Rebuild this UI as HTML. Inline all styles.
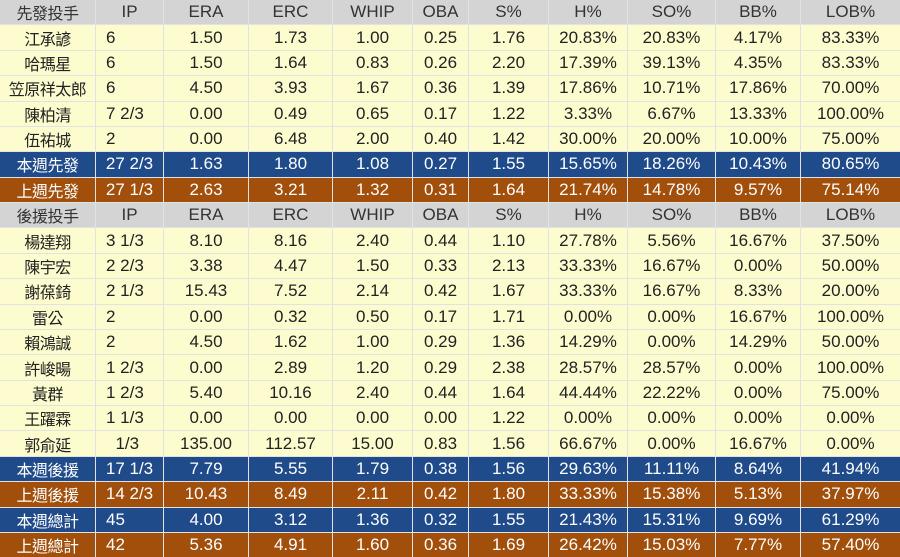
<!DOCTYPE html>
<html><head><meta charset="utf-8"><style>
html,body{margin:0;padding:0;background:#fff;overflow:hidden;}
.g{width:900px;height:557px;display:grid;grid-template-columns:95px 67px 84px 83px 79px 55px 79px 78px 87px 84px 99px;grid-template-rows:repeat(21,1fr);gap:1px;background:#e2e2e2;font-family:"Liberation Sans","Noto Sans CJK TC",sans-serif;font-size:17px;}
.g div{display:flex;align-items:center;justify-content:center;white-space:nowrap;overflow:hidden;color:#222;}
.n{font-size:16px;letter-spacing:-0.5px;}
.ip{justify-content:flex-start!important;padding-left:10px;}
.h{background:#d4d4d4;color:#333!important;}
.c{background:#fdfccf;}
.b{background:#1f4b8a;color:#fff!important;}
.o{background:#a24f0c;color:#fff!important;}
</style></head><body>
<div class="g" id="g"></div>
<script>
var rows=[
["h","先發投手","IP","ERA","ERC","WHIP","OBA","S%","H%","SO%","BB%","LOB%"],
["c","江承諺","6","1.50","1.73","1.00","0.25","1.76","20.83%","20.83%","4.17%","83.33%"],
["c","哈瑪星","6","1.50","1.64","0.83","0.26","2.20","17.39%","39.13%","4.35%","83.33%"],
["c","笠原祥太郎","6","4.50","3.93","1.67","0.36","1.39","17.86%","10.71%","17.86%","70.00%"],
["c","陳柏清","7 2/3","0.00","0.49","0.65","0.17","1.22","3.33%","6.67%","13.33%","100.00%"],
["c","伍祐城","2","0.00","6.48","2.00","0.40","1.42","30.00%","20.00%","10.00%","75.00%"],
["b","本週先發","27 2/3","1.63","1.80","1.08","0.27","1.55","15.65%","18.26%","10.43%","80.65%"],
["o","上週先發","27 1/3","2.63","3.21","1.32","0.31","1.64","21.74%","14.78%","9.57%","75.14%"],
["h","後援投手","IP","ERA","ERC","WHIP","OBA","S%","H%","SO%","BB%","LOB%"],
["c","楊達翔","3 1/3","8.10","8.16","2.40","0.44","1.10","27.78%","5.56%","16.67%","37.50%"],
["c","陳宇宏","2 2/3","3.38","4.47","1.50","0.33","2.13","33.33%","16.67%","0.00%","50.00%"],
["c","謝葆錡","2 1/3","15.43","7.52","2.14","0.42","1.67","33.33%","16.67%","8.33%","20.00%"],
["c","雷公","2","0.00","0.32","0.50","0.17","1.71","0.00%","0.00%","16.67%","100.00%"],
["c","賴鴻誠","2","4.50","1.62","1.00","0.29","1.36","14.29%","0.00%","14.29%","50.00%"],
["c","許峻暘","1 2/3","0.00","2.89","1.20","0.29","2.38","28.57%","28.57%","0.00%","100.00%"],
["c","黃群","1 2/3","5.40","10.16","2.40","0.44","1.64","44.44%","22.22%","0.00%","75.00%"],
["c","王躍霖","1 1/3","0.00","0.00","0.00","0.00","1.22","0.00%","0.00%","0.00%","0.00%"],
["c","郭俞延","\u00a0\u00a01/3","135.00","112.57","15.00","0.83","1.56","66.67%","0.00%","16.67%","0.00%"],
["b","本週後援","17 1/3","7.79","5.55","1.79","0.38","1.56","29.63%","11.11%","8.64%","41.94%"],
["o","上週後援","14 2/3","10.43","8.49","2.11","0.42","1.80","33.33%","15.38%","5.13%","37.97%"],
["b","本週總計","45","4.00","3.12","1.36","0.32","1.55","21.43%","15.31%","9.69%","61.29%"],
["o","上週總計","42","5.36","4.91","1.60","0.36","1.69","26.42%","15.03%","7.77%","57.40%"]];
var g=document.getElementById("g"),h="";
rows.forEach(function(r){for(var i=1;i<r.length;i++){var cls=r[0];if(i==1)cls+=" n";if(i==2&&(r[0]=="c"||r[2]=="45"||r[2]=="42"))cls+=" ip";h+='<div class="'+cls+'">'+r[i]+'</div>';}});
g.innerHTML=h;
</script>
</body></html>
